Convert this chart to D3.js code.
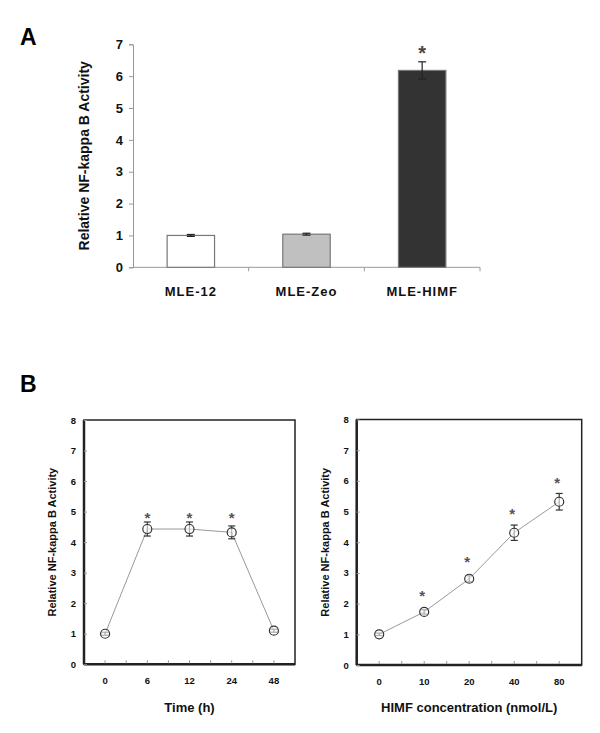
<!DOCTYPE html>
<html><head><meta charset="utf-8">
<script src="https://cdn.jsdelivr.net/npm/d3@7"></script>
<style>body{margin:0;background:#fff}text{font-family:"Liberation Sans",Arial,sans-serif}</style>
</head><body><svg id="c" width="600" height="733"></svg>
<script>
// Panel A data
const catsA = ["MLE-12", "MLE-Zeo", "MLE-HIMF"];
const valsA = [1.0, 1.04, 6.18];
const errA = [0.03, 0.03, 0.27];
const colorsA = ["#ffffff", "#c0c0c0", "#333333"];
const sigA = [false, false, true];
const ticksA = [0,1,2,3,4,5,6,7];

// Panel B left: time course
const catsB1 = ["0", "6", "12", "24", "48"];
const valsB1 = [1.0, 4.43, 4.43, 4.32, 1.1];
const errB1 = [0.05, 0.23, 0.23, 0.21, 0.05];
const sigB1 = [false, true, true, true, false];
const starB1 = [null, 4.86, 4.86, 4.86, null];
// Panel B right: dose
const catsB2 = ["0", "10", "20", "40", "80"];
const valsB2 = [1.0, 1.73, 2.81, 4.31, 5.32];
const errB2 = [0.04, 0.07, 0.1, 0.25, 0.27];
const sigB2 = [false, true, true, true, true];
const starB2 = [null, 2.3, 3.42, 5.0, 5.99];
const ticksB = [0,1,2,3,4,5,6,7,8];

const svg = d3.select("#c");

// Panel letters
svg.append("text").attr("x",20).attr("y",45).attr("font-size",23).attr("font-weight","bold").text("A");
svg.append("text").attr("x",20).attr("y",392).attr("font-size",23).attr("font-weight","bold").text("B");

// ---- Panel A ----
(function(){
  const L=133, R=480, T=44.3, B=267.3;
  const x = d3.scaleBand().domain(catsA).range([L,R]).paddingInner(0.59).paddingOuter(0.295);
  const y = d3.scaleLinear().domain([0,7]).range([B,T]);
  const g = svg.append("g");
  const ya = g.append("g").attr("transform",`translate(${L},0)`).call(d3.axisLeft(y).tickValues(ticksA).tickFormat(d3.format("d")).tickSize(4).tickPadding(6));
  ya.select(".domain").attr("stroke","#999");
  ya.selectAll(".tick line").attr("stroke","#999");
  ya.selectAll("text").attr("font-size",13).attr("font-weight","bold").attr("fill","#111").attr("font-family","Liberation Sans, Arial, sans-serif");
  const bounds = d3.scaleLinear().domain([0,3]).range([L,R]);
  g.append("line").attr("x1",L).attr("x2",R).attr("y1",B).attr("y2",B).attr("stroke","#999");
  [1,2,3].forEach(i=>g.append("line").attr("x1",bounds(i)).attr("x2",bounds(i)).attr("y1",B).attr("y2",B+4).attr("stroke","#999"));
  const bx = d3.scaleBand().domain(catsA).range([L,R]);
  g.selectAll("text.cat").data(catsA).join("text").attr("class","cat")
    .attr("x",d=>bx(d)+bx.bandwidth()/2).attr("y",296).attr("text-anchor","middle")
    .attr("font-size",13).attr("font-weight","bold").attr("letter-spacing",1).attr("fill","#111").text(d=>d);
  g.selectAll("rect.bar").data(catsA).join("rect").attr("class","bar")
    .attr("x",d=>x(d)).attr("width",x.bandwidth())
    .attr("y",(d,i)=>y(valsA[i])).attr("height",(d,i)=>B-y(valsA[i]))
    .attr("fill",(d,i)=>colorsA[i]).attr("stroke","#777").attr("stroke-width",1.2);
  catsA.forEach((d,i)=>{
    const cx = x(d)+x.bandwidth()/2;
    g.append("line").attr("x1",cx).attr("x2",cx).attr("y1",y(valsA[i]+errA[i])).attr("y2",y(valsA[i]-errA[i])).attr("stroke","#222").attr("stroke-width",1.2);
    [1,-1].forEach(s=>g.append("line").attr("x1",cx-4).attr("x2",cx+4).attr("y1",y(valsA[i]+s*errA[i])).attr("y2",y(valsA[i]+s*errA[i])).attr("stroke", "#222").attr("stroke-width",1.2));
    if(sigA[i]) g.append("text").attr("x",cx).attr("y",y(valsA[i]+errA[i])-2).attr("text-anchor","middle").attr("font-size",20).attr("font-weight","bold").attr("fill","#444").text("*");
  });
  g.append("text").attr("transform",`translate(89,${(T+B)/2}) rotate(-90)`).attr("text-anchor","middle")
    .attr("font-size",14).attr("font-weight","bold").attr("fill","#111").text("Relative NF-kappa B Activity");
})();

// ---- Panel B ----
function lineChart(cfg){
  const {L,R,T,B,cats,vals,errs,sig,stars,xlabel,ylabelX,xlabelY} = cfg;
  const g = svg.append("g");
  const x = d3.scalePoint().domain(cats).range([L,R]).padding(0.5);
  const y = d3.scaleLinear().domain([0,8]).range([B,T]);
  g.append("rect").attr("x",L).attr("y",T).attr("width",R-L).attr("height",B-T).attr("fill","none").attr("stroke","#222").attr("stroke-width",1.5);
  g.append("line").attr("x1",L).attr("x2",L).attr("y1",T).attr("y2",B).attr("stroke","#222").attr("stroke-width",2.5);
  g.append("line").attr("x1",L).attr("x2",R).attr("y1",B).attr("y2",B).attr("stroke","#222").attr("stroke-width",2.5);
  const ya = g.append("g").attr("transform",`translate(${L},0)`).call(d3.axisLeft(y).tickValues(ticksB).tickSize(-3).tickPadding(8));
  ya.select(".domain").remove();
  ya.selectAll(".tick line").attr("stroke","#999");
  ya.selectAll("text").attr("font-size",9.5).attr("font-weight","bold").attr("fill","#111").attr("font-family","Liberation Sans, Arial, sans-serif");
  const step = x.step();
  const tickPos = [];
  for(let i=0;i<cats.length;i++){ tickPos.push(x(cats[i])); if(i<cats.length-1) tickPos.push(x(cats[i])+step/2); }
  g.selectAll("line.xt").data(tickPos).join("line").attr("class","xt").attr("x1",d=>d).attr("x2",d=>d).attr("y1",B-1).attr("y2",B-4).attr("stroke","#999");
  g.selectAll("text.xl").data(cats).join("text").attr("class","xl").attr("x",d=>x(d)).attr("y",B+20).attr("text-anchor","middle")
    .attr("font-size",9.5).attr("font-weight","bold").attr("fill","#111").text(d=>d);
  const line = d3.line().x((d,i)=>x(cats[i])).y(d=>y(d));
  g.append("path").datum(vals).attr("d",line).attr("fill","none").attr("stroke","#999").attr("stroke-width",1);
  cats.forEach((c,i)=>{
    const cx=x(c);
    g.append("line").attr("x1",cx).attr("x2",cx).attr("y1",y(vals[i]+errs[i])).attr("y2",y(vals[i]-errs[i])).attr("stroke","#333").attr("stroke-width",1.2);
    [1,-1].forEach(s=>g.append("line").attr("x1",cx-3.5).attr("x2",cx+3.5).attr("y1",y(vals[i]+s*errs[i])).attr("y2",y(vals[i]+s*errs[i])).attr("stroke","#333").attr("stroke-width",1.2));
  });
  g.selectAll("circle").data(vals).join("circle").attr("cx",(d,i)=>x(cats[i])).attr("cy",d=>y(d)).attr("r",4.5)
    .attr("fill","#fff").attr("fill-opacity",0.6).attr("stroke","#333").attr("stroke-width",1.2);
  cats.forEach((c,i)=>{
    if(sig[i]) g.append("text").attr("x",x(c)-(cfg.starShift||0)).attr("y",y(stars[i])+7).attr("text-anchor","middle").attr("font-size",15).attr("font-weight","bold").attr("fill","#555").text("*");
  });
  g.append("text").attr("x",(L+R)/2).attr("y",xlabelY).attr("text-anchor","middle").attr("font-size",13).attr("font-weight","bold").attr("fill","#111").text(xlabel);
  g.append("text").attr("transform",`translate(${ylabelX},${(T+B)/2}) rotate(-90)`).attr("text-anchor","middle")
    .attr("font-size",11).attr("font-weight","bold").attr("fill","#111").text("Relative NF-kappa B Activity");
}
lineChart({L:84,R:295,T:420,B:664.3,cats:catsB1,vals:valsB1,errs:errB1,sig:sigB1,stars:starB1,xlabel:"Time (h)",ylabelX:56,xlabelY:712,starShift:0});
lineChart({L:356.7,R:581.7,T:419.5,B:665,cats:catsB2,vals:valsB2,errs:errB2,sig:sigB2,stars:starB2,xlabel:"HIMF concentration (nmol/L)",ylabelX:329,xlabelY:712,starShift:2});
</script></body></html>
